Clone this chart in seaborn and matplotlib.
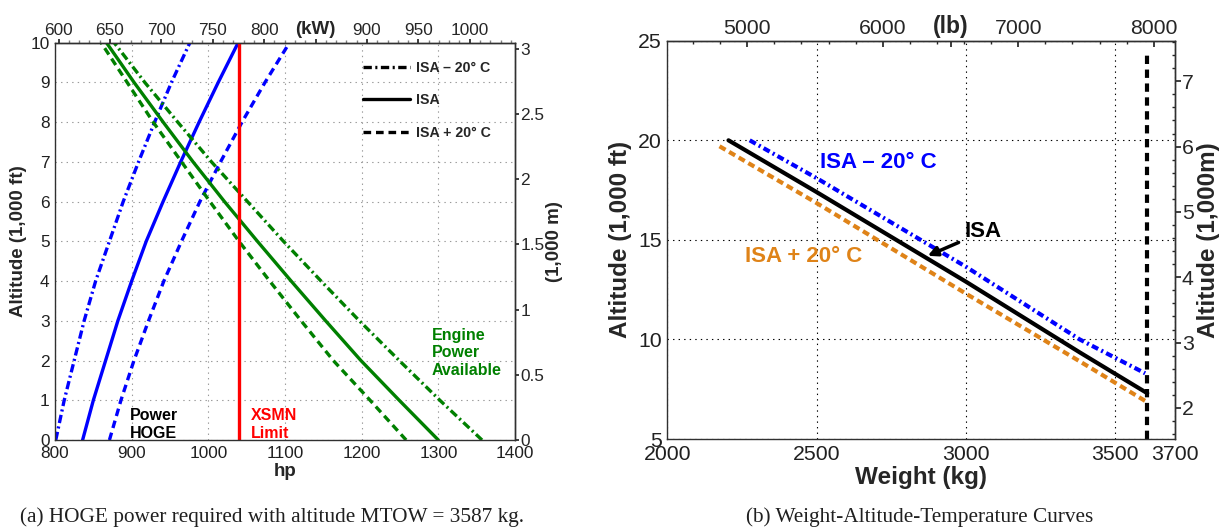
import matplotlib
matplotlib.use("Agg")
import matplotlib.pyplot as plt
import seaborn as sns
import pandas as pd
from matplotlib.lines import Line2D
from matplotlib.ticker import MultipleLocator

# ---------------- data: (a) HOGE power vs altitude ----------------
hp_ticks = [800, 900, 1000, 1100, 1200, 1300, 1400]
alt_ft_ticks = [0, 1, 2, 3, 4, 5, 6, 7, 8, 9, 10]
kw_ticks = [600, 650, 700, 750, 800, 850, 900, 950, 1000]
kw_labels = ["600", "650", "700", "750", "800", "(kW)", "900", "950", "1000"]
alt_m_ticks = [0, 0.5, 1, 1.5, 2, 2.5, 3]
alt_m_labels = ["0", "0.5", "1", "1.5", "2", "2.5", "3"]

# altitude stations (1,000 ft) shared by every power curve
alt_kft = [0, 1, 2, 3, 4, 5, 6, 7, 8, 9, 10]

# power required to hover out of ground effect (hp)
hoge_isa_hp = [836, 850, 866, 882, 900, 919, 941, 964, 988, 1013, 1039]
hoge_cold_hp = [801, 812, 825, 838, 853, 871, 889, 909, 930, 952, 976]
hoge_hot_hp = [871, 886, 903, 922, 942, 965, 989, 1016, 1044, 1074, 1106]

# engine power available (hp)
avail_isa_hp = [1300, 1249, 1199, 1153, 1108, 1064, 1021, 980, 941, 903, 867]
avail_cold_hp = [1357, 1302, 1249, 1197, 1147, 1098, 1051, 1004, 960, 917, 877]
avail_hot_hp = [1258, 1211, 1163, 1121, 1080, 1040, 1002, 965, 928, 894, 860]

xsmn_limit_hp = [1040, 1040]
xsmn_limit_alt = [0, 10]

# ---------------- data: (b) weight-altitude-temperature ----------------
kg_ticks = [2000, 2500, 3000, 3500, 3700]
alt_b_ticks = [5, 10, 15, 20, 25]
lb_ticks = [5000, 6000, 6500, 7000, 8000]
lb_labels = ["5000", "6000", "(lb)", "7000", "8000"]
alt_b_m_ticks = [2, 3, 4, 5, 6, 7]

wat_isa_kg = [2205, 2500, 3000, 3381, 3607]
wat_isa_alt = [20.0, 17.4, 12.9, 9.35, 7.3]
wat_cold_kg = [2276, 2500, 3000, 3381, 3600]
wat_cold_alt = [20.0, 18.1, 13.65, 10.0, 8.3]
wat_hot_kg = [2175, 2500, 3000, 3381, 3607]
wat_hot_alt = [19.7, 16.85, 12.3, 8.9, 6.85]

mtow_kg = [3607, 3607]
mtow_alt = [5, 24.5]

# ---------------- style ----------------
sns.set_theme(style="white")
plt.rcParams["font.family"] = ["Liberation Sans", "DejaVu Sans"]
plt.rcParams["lines.scale_dashes"] = False
plt.rcParams["axes.edgecolor"] = "#303030"
plt.rcParams["axes.linewidth"] = 1.0

GREEN = "#008000"
BLUE = "#0000FF"
RED = "#FF0000"
ORANGE = "#DF8318"
DASHDOT = (0, (6, 2.5, 1.5, 2.5))
DASHED = (0, (5.5, 3.5))

fig = plt.figure(figsize=(12.25, 5.29), dpi=100)
ax1 = fig.add_axes([0.0449, 0.1682, 0.3755, 0.7514])
ax2 = fig.add_axes([0.5447, 0.1701, 0.4145, 0.7529])


def curve(ax, x, y, color, ls, lw):
    df = pd.DataFrame({"x": x, "y": y})
    sns.lineplot(data=df, x="x", y="y", ax=ax, color=color, linestyle=ls,
                 lw=lw, sort=False, estimator=None, legend=False)


# ---------------- (a) ----------------
LW1 = 2.4
curve(ax1, hoge_cold_hp, alt_kft, BLUE, DASHDOT, LW1)
curve(ax1, hoge_isa_hp, alt_kft, BLUE, "-", LW1)
curve(ax1, hoge_hot_hp, alt_kft, BLUE, DASHED, LW1)
curve(ax1, avail_cold_hp, alt_kft, GREEN, DASHDOT, LW1)
curve(ax1, avail_isa_hp, alt_kft, GREEN, "-", LW1)
curve(ax1, avail_hot_hp, alt_kft, GREEN, DASHED, LW1)
curve(ax1, xsmn_limit_hp, xsmn_limit_alt, RED, "-", LW1)

ax1.set_xlim(800, 1400)
ax1.set_ylim(0, 10)
ax1.set_xticks(hp_ticks)
ax1.set_yticks(alt_ft_ticks)
ax1.grid(True, linestyle=(0, (1, 3)), color="#9a9a9a", lw=0.8)
ax1.tick_params(labelsize=12.4, length=3, direction="out", pad=1, colors="#202020")
ax1.set_xlabel("hp", fontsize=13.5, fontweight="bold", labelpad=2)
ax1.set_ylabel("Altitude (1,000 ft)", fontsize=13.5, fontweight="bold", labelpad=2)

top1 = ax1.secondary_xaxis("top", functions=(lambda h: h * 0.7457, lambda k: k / 0.7457))
top1.set_xticks(kw_ticks)
top1.set_xticklabels(kw_labels)
top1.xaxis.set_minor_locator(MultipleLocator(10))
top1.tick_params(which="major", labelsize=12.4, length=3, pad=0)
top1.tick_params(which="minor", length=2, color="#808080")
for lab in top1.get_xticklabels():
    if lab.get_text() == "(kW)":
        lab.set_fontweight("bold")
        lab.set_fontsize(13.5)

right1 = ax1.secondary_yaxis("right", functions=(lambda f: f * 0.3048, lambda m: m / 0.3048))
right1.set_yticks(alt_m_ticks)
right1.set_yticklabels(alt_m_labels)
right1.tick_params(labelsize=12.4, length=3, pad=1)
right1.set_ylabel("(1,000 m)", fontsize=13.5, fontweight="bold", labelpad=1)

handles = [Line2D([], [], color="black", lw=2.4, linestyle=DASHDOT),
           Line2D([], [], color="black", lw=2.4, linestyle="-"),
           Line2D([], [], color="black", lw=2.4, linestyle=DASHED)]
ax1.legend(handles, ["ISA \u2013 20\u00b0 C", "ISA", "ISA + 20\u00b0 C"],
           loc="upper left", bbox_to_anchor=(0.655, 0.972), frameon=False,
           handlelength=3.3, handletextpad=0.4, labelspacing=1.3, borderpad=0,
           prop={"weight": "bold", "size": 10.2})

ax1.text(898, -0.02, "Power\nHOGE", fontsize=11.5, fontweight="bold", color="black",
         va="bottom", ha="left", linespacing=1.2)
ax1.text(1056, -0.02, "XSMN\nLimit", fontsize=11.5, fontweight="bold", color=RED,
         va="bottom", ha="left", linespacing=1.2)
ax1.text(1291, 2.19, "Engine\nPower\nAvailable", fontsize=11.5, fontweight="bold",
         color=GREEN, va="center", ha="left", linespacing=1.2)

# ---------------- (b) ----------------
LW2 = 3.0
curve(ax2, wat_cold_kg, wat_cold_alt, BLUE, (0, (5, 2.5, 1.5, 2.5)), LW2)
curve(ax2, wat_hot_kg, wat_hot_alt, ORANGE, (0, (5, 3)), LW2)
curve(ax2, wat_isa_kg, wat_isa_alt, "black", "-", LW2)
curve(ax2, mtow_kg, mtow_alt, "black", (0, (6, 4)), LW2)

ax2.set_xlim(2000, 3700)
ax2.set_ylim(5, 25)
ax2.set_xticks(kg_ticks)
ax2.set_yticks(alt_b_ticks)
ax2.grid(True, linestyle=(0, (1, 3)), color="black", lw=0.8)
ax2.tick_params(labelsize=15.3, length=3, direction="out", pad=1, colors="#202020")
ax2.set_xlabel("Weight (kg)", fontsize=17.5, fontweight="bold", labelpad=2)
ax2.set_ylabel("Altitude (1,000 ft)", fontsize=17.5, fontweight="bold", labelpad=4)

top2 = ax2.secondary_xaxis("top", functions=(lambda k: k * 2.20462, lambda p: p / 2.20462))
top2.set_xticks(lb_ticks)
top2.set_xticklabels(lb_labels)
top2.xaxis.set_minor_locator(MultipleLocator(200))
top2.tick_params(which="major", labelsize=15.3, length=4, direction="in", pad=2)
top2.tick_params(which="minor", length=2, direction="in")
for lab in top2.get_xticklabels():
    if lab.get_text() == "(lb)":
        lab.set_fontweight("bold")
        lab.set_fontsize(16.5)

right2 = ax2.secondary_yaxis("right", functions=(lambda f: f * 0.3048, lambda m: m / 0.3048))
right2.set_yticks(alt_b_m_ticks)
right2.yaxis.set_minor_locator(MultipleLocator(0.2))
right2.tick_params(which="major", labelsize=15.3, length=4, pad=1)
right2.tick_params(which="minor", length=2, direction="in")
right2.set_ylabel("Altitude (1,000m)", fontsize=17.5, fontweight="bold", labelpad=2)

ax2.text(2511, 18.9, "ISA \u2013 20\u00b0 C", fontsize=16, fontweight="bold", color=BLUE,
         va="center", ha="left")
ax2.text(2259, 14.15, "ISA + 20\u00b0 C", fontsize=16, fontweight="bold", color=ORANGE,
         va="center", ha="left")
ax2.annotate("ISA", xy=(2872, 14.2), xytext=(2995, 15.4), fontsize=16, fontweight="bold",
             color="black", va="center", ha="left",
             arrowprops=dict(arrowstyle="-|>", color="black", lw=2.5,
                             mutation_scale=14, shrinkA=2, shrinkB=0))

# ---------------- captions ----------------
fig.text(0.2224, 0.022, "(a) HOGE power required with altitude MTOW = 3587 kg.",
         family="Liberation Serif", fontsize=15.3, ha="center", va="center", color="#202020")
fig.text(0.751, 0.022, "(b) Weight-Altitude-Temperature Curves",
         family="Liberation Serif", fontsize=15.3, ha="center", va="center", color="#202020")

fig.savefig("out.png", dpi=100)
